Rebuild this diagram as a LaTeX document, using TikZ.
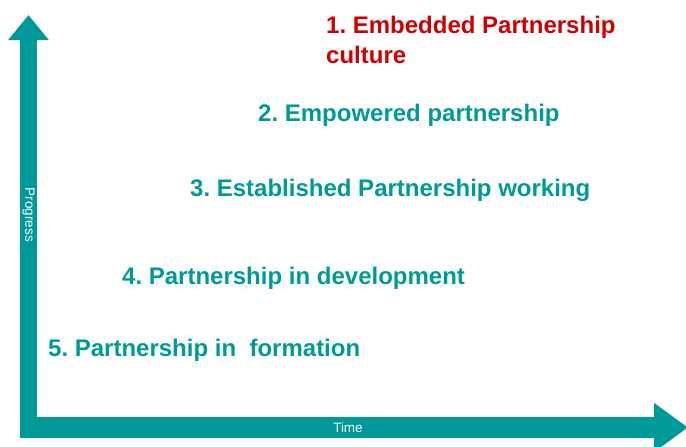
\documentclass[tikz,border=0pt]{standalone}
\usepackage{fontspec}
\setmainfont{Liberation Sans}
\usepackage{xcolor}
\usepackage{tikz}
\usetikzlibrary{positioning}
\usetikzlibrary{arrows.meta}
\definecolor{stageteal}{RGB}{0,153,153}
\definecolor{stagered}{RGB}{204,0,0}
\pgfdeclarelayer{nodelayer}
\pgfdeclarelayer{edgelayer}
\pgfsetlayers{edgelayer,nodelayer,main}
\frenchspacing
\tikzset{
    none/.style = {inner sep=0pt},
    stage/.style = {inner sep=0pt, anchor=base west, align=left, text=stageteal,
                    font=\fontsize{24}{30}\selectfont\bfseries},
    top stage/.style = {stage, text=stagered},
    axislabel/.style = {inner sep=0pt, text=white, font=\fontsize{13.5}{15}\selectfont},
    yaxis/.style = {draw=stageteal, line width=17pt,
                    -{Triangle[length=25pt, width=39pt]}},
    xaxis/.style = {draw=stageteal, line width=21pt,
                    -{Triangle[length=34pt, width=47pt]}}
}

\begin{document}
\begin{tikzpicture}[x=1pt, y=-1pt]
  \useasboundingbox (0, 0) rectangle (686, 447);
  \begin{pgfonlayer}{nodelayer}
    % base anchor sits on the last line
    \node [style=top stage] (1) at (326, 63) {1. Embedded Partnership\\culture};
    \node [style=stage] (2) at (258, 121) {2. Empowered partnership};
    \node [style=stage] (3) at (190, 196.5) {3. Established Partnership working};
    \node [style=stage] (4) at (122, 284.5) {4. Partnership in development};
    \node [style=stage] (5) at (48, 356) {5. Partnership in\ \ formation};
    \node [style=axislabel, rotate=-90] (6) at (28.5, 215) {Progress};
    \node [style=axislabel] (7) at (348, 428) {Time};
    \coordinate (8) at (28.5, 438);
    \coordinate (9) at (28.5, 15);
    \coordinate (10) at (20, 427.5);
    \coordinate (11) at (688, 427.5);
  \end{pgfonlayer}
  \begin{pgfonlayer}{edgelayer}
    \draw [style=yaxis] (8) to (9);
    \draw [style=xaxis] (10) to (11);
  \end{pgfonlayer}
\end{tikzpicture}
\end{document}
